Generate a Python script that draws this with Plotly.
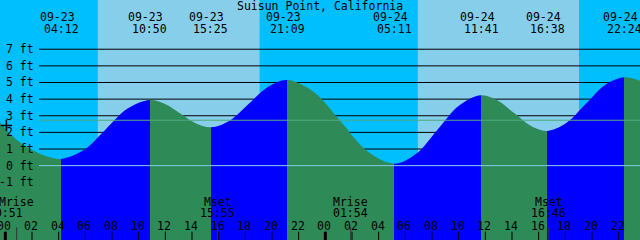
import plotly.graph_objects as go

# ---------------- data ----------------
title = "Suisun Point, California"

# tide curve samples: hours since 09-23 00:00 and height in ft
curve_hour = [-0.4, 1.0, 2.5, 3.5, 4.2, 5.86, 7.52, 9.17, 10.833, 11.98, 13.125, 14.27,
              15.417, 16.85, 18.28, 19.72, 21.15, 23.16, 25.17, 27.18, 29.183, 30.81,
              32.43, 34.06, 35.683, 36.92, 38.16, 39.40, 40.633, 42.07, 43.52, 44.96,
              46.4, 47.6]
curve_ft = [2.6, 1.45, 0.75, 0.47, 0.40, 0.92, 2.18, 3.43, 3.95, 3.71, 3.13, 2.55,
            2.31, 2.72, 3.73, 4.74, 5.15, 4.42, 2.64, 0.85, 0.12, 0.72,
            2.18, 3.63, 4.23, 3.92, 3.16, 2.40, 2.09, 2.56, 3.70, 4.84,
            5.31, 5.11]

ext_date = ["09-23", "09-23", "09-23", "09-23", "09-24", "09-24", "09-24", "09-24"]
ext_time = ["04:12", "10:50", "15:25", "21:09", "05:11", "11:41", "16:38", "22:24"]
ext_kind = ["low", "high", "low", "high", "low", "high", "low", "high"]

sunrise = ["09-23 06:56", "09-24 06:56"]
sunset = ["09-23 19:05", "09-24 19:02"]

moon_event = ["Mrise", "Mset", "Mrise", "Mset"]
moon_date = ["09-23", "09-23", "09-24", "09-24"]
moon_time = ["00:51", "15:55", "01:54", "16:46"]

ft_levels = [-1, 0, 1, 2, 3, 4, 5, 6, 7]
mean_level = 2.73
marker_hour, marker_ft = 0.08, 2.42

hour_ticks = list(range(0, 49, 2))
x_range = [-0.4, 47.6]
y_range = [-4.47, 9.96]

# ---------------- helpers ----------------
def to_hour(date, hm):
    day = int(date.split("-")[1]) - 23
    h, m = hm.split(":")
    return 24 * day + int(h) + int(m) / 60.0

ext_hour = [to_hour(d, t) for d, t in zip(ext_date, ext_time)]
rise_hour = [to_hour(*s.split(" ")) for s in sunrise]
set_hour = [to_hour(*s.split(" ")) for s in sunset]
moon_hour = [to_hour(d, t) for d, t in zip(moon_date, moon_time)]

NIGHT = "#00BFFF"
DAY = "#87CEEB"
RISING = "#0000FF"
FALLING = "#2E8B57"
FONT = "DejaVu Sans Mono"
FS = 11.5

fig = go.Figure()

# horizontal fill gradient: colour by rising / falling segments
span = x_range[1] - x_range[0]
bounds = [x_range[0]] + ext_hour + [x_range[1]]
seg_colors = []
for i in range(len(bounds) - 1):
    if i < len(ext_kind):
        seg_colors.append(FALLING if ext_kind[i] == "low" else RISING)
    else:
        seg_colors.append(FALLING if ext_kind[-1] == "high" else RISING)
cscale = []
for i, c in enumerate(seg_colors):
    p0 = min(max((bounds[i] - x_range[0]) / span, 0), 1)
    p1 = min(max((bounds[i + 1] - x_range[0]) / span, 0), 1)
    cscale.append([p0, c])
    cscale.append([p1, c])
cscale[0][0] = 0.0
cscale[-1][0] = 1.0

fig.add_trace(go.Scatter(x=[x_range[0], x_range[1]], y=[y_range[0] - 1, y_range[0] - 1],
                         mode="lines", line=dict(width=0), hoverinfo="skip",
                         showlegend=False))
fig.add_trace(go.Scatter(x=curve_hour, y=curve_ft, mode="lines",
                         line=dict(width=0, shape="spline", smoothing=1.0),
                         fill="tonexty",
                         fillgradient=dict(type="horizontal", colorscale=cscale,
                                           start=x_range[0], stop=x_range[1]),
                         hoverinfo="skip", showlegend=False))

# bottom tick marks
tx, ty = [], []
for h in hour_ticks:
    if h % 24 != 0:
        tx += [h, h, None]
        ty += [-3.97, y_range[0], None]
fig.add_trace(go.Scatter(x=tx, y=ty, mode="lines", line=dict(color="black", width=1),
                         hoverinfo="skip", showlegend=False))
mx, my = [], []
for h in hour_ticks:
    if h % 24 == 0:
        mx += [h, h, None]
        my += [-3.97, y_range[0], None]
fig.add_trace(go.Scatter(x=mx, y=my, mode="lines", line=dict(color="black", width=3),
                         hoverinfo="skip", showlegend=False))
mmx, mmy = [], []
for h in moon_hour:
    mmx += [h, h, None]
    mmy += [-3.7, y_range[0], None]
fig.add_trace(go.Scatter(x=mmx, y=mmy, mode="lines", line=dict(color="#333333", width=1),
                         hoverinfo="skip", showlegend=False))

# '+' marker
fig.add_trace(go.Scatter(x=[marker_hour], y=[marker_ft], mode="markers",
                         marker=dict(symbol="cross-thin", size=8,
                                     line=dict(color="black", width=1.5)),
                         hoverinfo="skip", showlegend=False))

shapes = []
# day / night bands
edges = [x_range[0]]
for r, s in zip(rise_hour, set_hour):
    edges += [r, s]
edges.append(x_range[1])
for i in range(len(edges) - 1):
    shapes.append(dict(type="rect", xref="x", yref="paper", x0=edges[i], x1=edges[i + 1],
                       y0=0, y1=1, fillcolor=NIGHT if i % 2 == 0 else DAY,
                       line=dict(width=0), layer="below"))
# ft lines behind the curve
for lv in ft_levels:
    shapes.append(dict(type="line", xref="paper", yref="y", x0=39 / 640, x1=1, y0=lv, y1=lv,
                       line=dict(color="black", width=1), layer="below"))
# zero and mean lines on top
shapes.append(dict(type="line", xref="paper", yref="y", x0=39 / 640, x1=1, y0=0, y1=0,
                   line=dict(color=DAY, width=1), layer="above"))
shapes.append(dict(type="line", xref="paper", yref="y", x0=39 / 640, x1=1,
                   y0=mean_level, y1=mean_level,
                   line=dict(color="#4DAA80", width=1), layer="above"))

ann = []
fnt = dict(family=FONT, size=FS, color="black")
ann.append(dict(text=title, x=0.5, y=0.977, xref="paper", yref="paper",
                showarrow=False, font=fnt, xanchor="center", yanchor="middle"))
for lv in ft_levels:
    ann.append(dict(text=f"{lv} ft", x=36 / 640, y=lv, xref="paper", yref="y",
                    showarrow=False, font=fnt, xanchor="right", yanchor="middle"))
for d, t, h in zip(ext_date, ext_time, ext_hour):
    ann.append(dict(text=d, x=h, y=0.929, xref="x", yref="paper", xshift=-4,
                    showarrow=False, font=fnt, xanchor="center", yanchor="middle"))
    ann.append(dict(text=t, x=h, y=0.879, xref="x", yref="paper",
                    showarrow=False, font=fnt, xanchor="center", yanchor="middle"))
for i, (e, t, h) in enumerate(zip(moon_event, moon_time, moon_hour)):
    ann.append(dict(text=e, x=h, y=0.158, xref="x", yref="paper",
                    showarrow=False, font=fnt, xanchor="center", yanchor="middle"))
    ann.append(dict(text=t, x=h, y=0.1125, xref="x", yref="paper",
                    xshift=-11 if i == 0 else 0,
                    showarrow=False, font=fnt, xanchor="center", yanchor="middle"))
for h in hour_ticks:
    ann.append(dict(text=f"{h % 24:02d}", x=h, y=0.0604, xref="x", yref="paper", xshift=-1,
                    showarrow=False, font=fnt, xanchor="center", yanchor="middle"))

fig.update_layout(
    width=640, height=240, margin=dict(l=0, r=0, t=0, b=0),
    paper_bgcolor=NIGHT, plot_bgcolor=NIGHT,
    xaxis=dict(range=x_range, visible=False, fixedrange=True),
    yaxis=dict(range=y_range, visible=False, fixedrange=True),
    shapes=shapes, annotations=ann, showlegend=False,
)
fig.write_html("out.html", config=dict(displayModeBar=False))
